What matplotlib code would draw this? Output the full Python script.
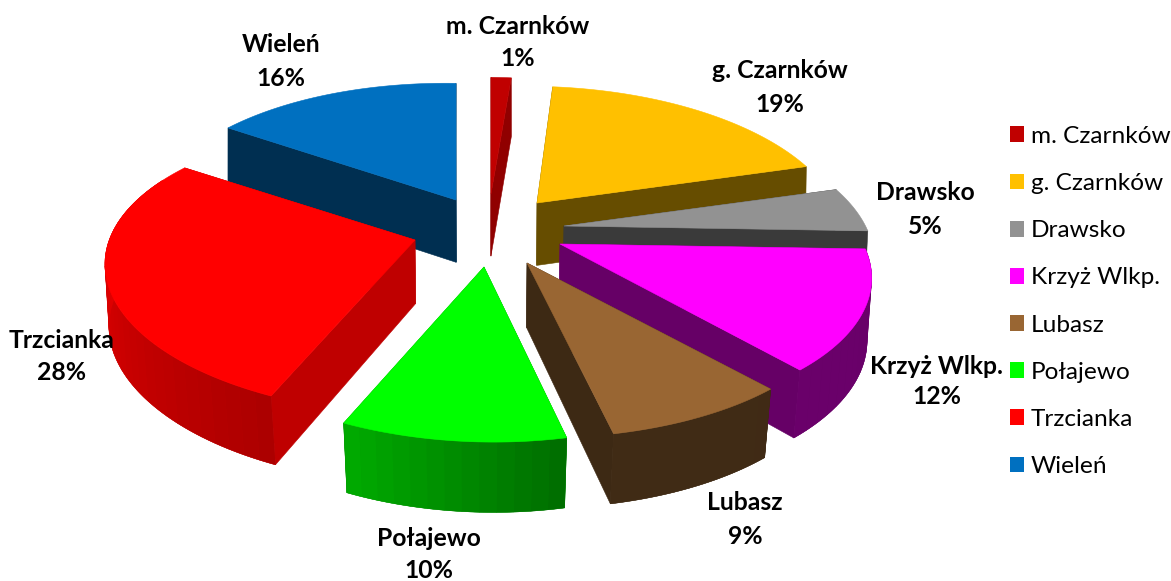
import numpy as np
import matplotlib
matplotlib.use("Agg")
import matplotlib.pyplot as plt
from matplotlib.patches import Patch, Polygon
from matplotlib.collections import PolyCollection

names = ["m. Czarnków", "g. Czarnków", "Drawsko", "Krzyż Wlkp.", "Lubasz", "Połajewo", "Trzcianka", "Wieleń"]
values = [1, 19, 5, 12, 9, 10, 28, 16]
colors = ["#C00000", "#FFC000", "#929292", "#FF00FF", "#996633", "#00FF00", "#FF0000", "#0070C0"]

# layout of the exploded slices (pixel canvas)
apex_x = [491, 537, 564, 560, 527, 484, 415, 456]
apex_y = [194, 203, 226, 244, 263, 267, 240, 200]
radius_scale = [1.25, 0.97, 0.98, 0.985, 1.0, 0.955, 0.98, 0.97]
wall_shade = [0.75, 0.40, 0.40, 0.40, 0.40, 0.55, 0.75, 0.42]
draw_order = [7, 0, 1, 2, 6, 3, 4, 5]
label_x = [518, 780, 925, 937, 745, 429, 62, 281]
label_y1 = [26, 70, 193, 366, 503, 539, 341, 45]
label_y2 = [58, 104, 226, 397, 536, 571, 373, 78]

RX, RY, K, SHEAR = 310.0, 140.0, 0.2, 0.016
VX = 480.0
RIM_FROM, RIM_TO = 90.0, 295.0  # the part of the rim that faces the viewer
FS = 17.8


def warp(theta):
    return np.interp(theta, [0, 90, 133.2, 165.6, 360], [0, 90, 138, 167, 360])


def project(theta, ax0, ay0, s):
    t = np.radians(warp(theta))
    den = 1 + K * np.cos(t)
    dx = s * RX * np.sin(t) / den
    dy = RY * np.cos(t) / den
    return ax0 + dx, ay0 - dy + SHEAR * dx


def drop(x, y):
    d = 60 + (y - 130) * 0.033
    shrink = 1 - (y - 130) * 0.00008
    return VX + (x - VX) * shrink, y + d


def rim_shade(theta):
    return np.interp(theta, [0, 165, 201, 275, 360], [0.40, 0.42, 0.67, 0.90, 0.90])


fig = plt.figure(figsize=(11.71, 5.81), dpi=100)
ax = fig.add_axes([0, 0, 1, 1])
ax.set_xlim(0, 1171)
ax.set_ylim(581, 0)
ax.axis("off")

edges = np.concatenate([[0], np.cumsum(values)]) / sum(values) * 360.0

for z, i in enumerate(draw_order):
    t0, t1 = edges[i], edges[i + 1]
    base = np.array(matplotlib.colors.to_rgb(colors[i]))
    th = np.linspace(t0, t1, max(3, int((t1 - t0) * 1.2)))
    x, y = project(th, apex_x[i], apex_y[i], radius_scale[i])
    bx, by = drop(x, y)
    ax0, ay0 = apex_x[i], apex_y[i]
    bax, bay = drop(np.array(ax0, float), np.array(ay0, float))
    wc = tuple(base * wall_shade[i])
    zb = 2 + z * 4

    # radial walls
    for k in (0, -1):
        ax.add_patch(Polygon([(ax0, ay0), (x[k], y[k]), (bx[k], by[k]), (bax, bay)],
                             closed=True, fc=wc, ec=wc, lw=0.4, zorder=zb))

    # rim wall: solid underlay, then gradient bands
    ra, rb = max(t0, RIM_FROM), min(t1, RIM_TO)
    if rb > ra:
        n = max(2, int((rb - ra) / 3) + 1)
        tr = np.linspace(ra, rb, n * 4 + 1)
        rx, ry = project(tr, ax0, ay0, radius_scale[i])
        rbx, rby = drop(rx, ry)
        mean_c = tuple(base * rim_shade((ra + rb) / 2))
        sil = np.column_stack([np.r_[rx, rbx[::-1]], np.r_[ry, rby[::-1]]])
        ax.add_patch(Polygon(sil, closed=True, fc=mean_c, ec=mean_c, lw=0.3, zorder=zb + 1))
        quads, qc = [], []
        for j in range(n):
            a, b = j * 4, (j + 1) * 4 + 1
            quads.append(np.column_stack([np.r_[rx[a:b], rbx[a:b][::-1]], np.r_[ry[a:b], rby[a:b][::-1]]]))
            qc.append(tuple(base * rim_shade((tr[a] + tr[b - 1]) / 2)))
        ax.add_collection(PolyCollection(quads, facecolors=qc, edgecolors=qc, linewidths=0.3, zorder=zb + 2))

    # top face
    ax.add_patch(Polygon(np.column_stack([np.r_[ax0, x], np.r_[ay0, y]]),
                         closed=True, fc=base, ec=base, lw=0.4, zorder=zb + 3))

font = ["Lato", "DejaVu Sans"]
for i, n in enumerate(names):
    ax.text(label_x[i], label_y1[i], n, ha="center", va="center", fontsize=FS,
            fontweight="bold", family=font, color="black", zorder=50)
    ax.text(label_x[i], label_y2[i], f"{values[i]}%", ha="center", va="center", fontsize=FS,
            fontweight="bold", family=font, color="black", zorder=50)

handles = [Patch(fc=c, ec="none") for c in colors]
ax.legend(handles, names, loc="upper left", bbox_to_anchor=(1010, 126), bbox_transform=ax.transData,
          frameon=False, prop={"family": font, "size": 17.6}, labelspacing=1.07,
          handlelength=0.58, handleheight=0.62, handletextpad=0.26, borderpad=0, borderaxespad=0)

fig.savefig("out.png", dpi=100)
